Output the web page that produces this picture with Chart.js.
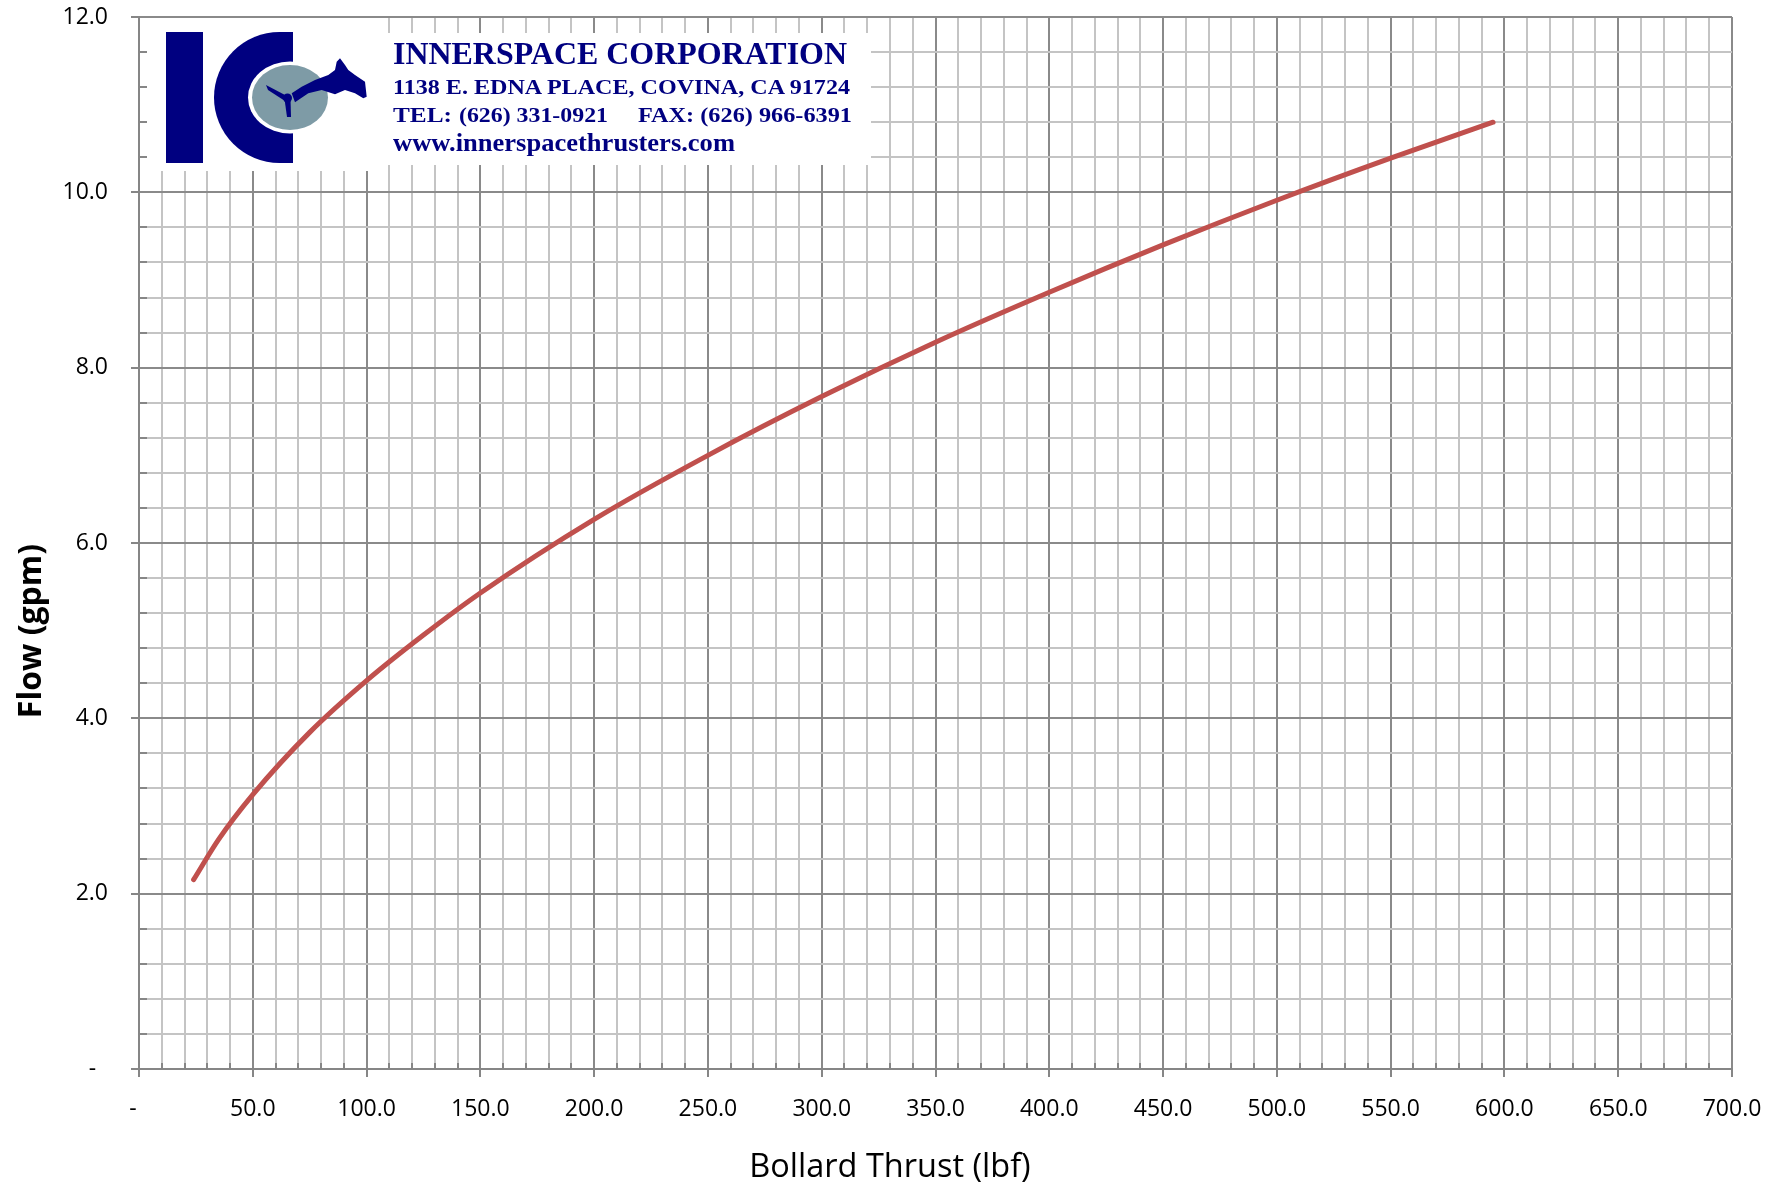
<!DOCTYPE html>
<html>
<head>
<meta charset="utf-8">
<script src="https://cdn.jsdelivr.net/npm/chart.js@4.4.0/dist/chart.umd.min.js"></script>
<style>
  html, body { margin: 0; padding: 0; background: #fff; }
  #wrap { position: relative; width: 1783px; height: 1191px; }
  #chart { display: block; }
  #logo { position: absolute; left: 0; top: 0; pointer-events: none; }
  #logo text { font-family: "Liberation Serif", "Times New Roman", serif; font-weight: bold; fill: #000080; }
</style>
</head>
<body>
<div id="wrap">
  <canvas id="chart" width="1783" height="1191"></canvas>
  <svg id="logo" width="1783" height="1191" xmlns="http://www.w3.org/2000/svg">
    <!-- IC mark -->
    <rect x="166" y="32" width="37" height="131" fill="#000080"/>
    <path d="M293 32 L279.5 32 A65.5 65.5 0 0 0 279.5 163 L293 163 Z" fill="#000080"/>
    <ellipse cx="290" cy="97.5" rx="42" ry="36" fill="#fff"/>
    <ellipse cx="290" cy="97.5" rx="38" ry="32.5" fill="#7e9ba6"/>
    <path d="M291.7 93.3 L301.7 86.7 L315 80 L328.3 75 L335 70 L336.7 61.7 L340 58.3 L345 65 L348.3 70 L355 75 L365 81.7 L366.7 96.7 L363.3 98.3 L355 93.3 L345 90 L335 94.3 L321.7 90 L308.3 93.3 L295 102.3 Z" fill="#000080"/>
    <path d="M285 95 L266 85 L268 90 L285 101 Z" fill="#000080"/>
    <path d="M284.5 99 L287 117 L291 117 L290.5 99 Z" fill="#000080"/>
    <circle cx="287.5" cy="98" r="4.5" fill="#000080"/>
    <!-- company text -->
    <text x="393" y="64" font-size="32" textLength="454" lengthAdjust="spacingAndGlyphs">INNERSPACE CORPORATION</text>
    <text x="393" y="94" font-size="21.5" textLength="457" lengthAdjust="spacingAndGlyphs">1138 E. EDNA PLACE, COVINA, CA 91724</text>
    <text x="393" y="122" font-size="21.5" textLength="59" lengthAdjust="spacingAndGlyphs">TEL:</text>
    <text x="459" y="122" font-size="21.5" textLength="149" lengthAdjust="spacingAndGlyphs">(626) 331-0921</text>
    <text x="638" y="122" font-size="21.5" textLength="214" lengthAdjust="spacingAndGlyphs">FAX: (626) 966-6391</text>
    <text x="393" y="151" font-size="26" textLength="342" lengthAdjust="spacingAndGlyphs">www.innerspacethrusters.com</text>
  </svg>
</div>
<script>
// Bollard thrust (lbf) vs flow (gpm)
const thrust = [24, 35, 50, 75, 100, 125, 150, 200, 250, 300, 350, 400, 450, 500, 550, 595];
const flow   = [2.16, 2.62, 3.13, 3.84, 4.43, 4.95, 5.43, 6.27, 7.00, 7.67, 8.29, 8.86, 9.40, 9.91, 10.39, 10.80];

const xTickLabels = ['-', '50.0', '100.0', '150.0', '200.0', '250.0', '300.0', '350.0',
                     '400.0', '450.0', '500.0', '550.0', '600.0', '650.0', '700.0'];
const yTickLabels = ['-', '2.0', '4.0', '6.0', '8.0', '10.0', '12.0'];

const MINOR = '#c4c4c4';
const MAJOR = '#8a8a8a';
const AXIS = '#868686';
const TICK_FONT = { family: 'Open Sans', size: 23 };

const isMajorX = v => Math.round(v) % 50 === 0;
const isMajorY = v => Math.round(v * 10) % 20 === 0;

// white logo panel over the grid + Excel-style inside minor ticks
const logoPanel = {
  id: 'logoPanel',
  beforeDatasetsDraw(chart) {
    const { ctx, chartArea: a, scales: { x, y } } = chart;
    ctx.save();
    ctx.fillStyle = '#fff';
    ctx.fillRect(141, 18, 237, 153);
    ctx.fillRect(378, 33, 493, 132);
    ctx.strokeStyle = AXIS;
    ctx.lineWidth = 2;
    ctx.beginPath();
    x.ticks.forEach(t => {
      if (isMajorX(t.value)) return;
      const px = Math.round(x.getPixelForValue(t.value));
      ctx.moveTo(px, a.bottom);
      ctx.lineTo(px, a.bottom - 6);
    });
    y.ticks.forEach(t => {
      if (isMajorY(t.value)) return;
      const py = Math.round(y.getPixelForValue(t.value));
      ctx.moveTo(a.left, py);
      ctx.lineTo(a.left + 8, py);
    });
    ctx.stroke();
    ctx.restore();
  }
};

// axis titles sit off-centre in the original, so place them by hand
const axisTitles = {
  id: 'axisTitles',
  afterDraw(chart) {
    const { ctx } = chart;
    ctx.save();
    ctx.fillStyle = '#000';
    ctx.textAlign = 'center';
    ctx.textBaseline = 'middle';
    ctx.font = '32.5px "Open Sans"';
    ctx.fillText('Bollard Thrust (lbf)', 890, 1168);
    ctx.translate(32, 631);
    ctx.rotate(-Math.PI / 2);
    ctx.font = 'bold 32px "Open Sans"';
    ctx.fillText('Flow (gpm)', 0, 0);
    ctx.restore();
  }
};

new Chart(document.getElementById('chart'), {
  type: 'scatter',
  data: {
    datasets: [{
      data: thrust.map((t, i) => ({ x: t, y: flow[i] })),
      showLine: true,
      borderColor: '#c0504d',
      borderWidth: 5,
      borderCapStyle: 'round',
      pointRadius: 0,
      cubicInterpolationMode: 'monotone'
    }]
  },
  options: {
    responsive: false,
    animation: false,
    layout: { padding: { top: 17, right: 51, left: 0, bottom: 0 } },
    plugins: { legend: { display: false }, tooltip: { enabled: false } },
    scales: {
      x: {
        type: 'linear',
        min: 0,
        max: 700,
        afterFit: s => { s.height = 122; },
        border: { color: AXIS, width: 2 },
        grid: {
          color: c => isMajorX(c.tick.value) ? MAJOR : MINOR,
          lineWidth: 2,
          tickLength: 8,
          tickWidth: 2,
          tickColor: c => isMajorX(c.tick.value) ? AXIS : 'rgba(0,0,0,0)'
        },
        ticks: {
          stepSize: 10,
          autoSkip: false,
          maxRotation: 0,
          padding: 19,
          color: '#000',
          font: TICK_FONT,
          callback: v => isMajorX(v) ? (v === 0 ? '-  ' : xTickLabels[Math.round(v / 50)]) : ''
        }
      },
      y: {
        type: 'linear',
        min: 0,
        max: 12,
        afterFit: s => { s.width = 139; s.paddingTop = 0; s.paddingBottom = 0; },
        border: { color: AXIS, width: 2 },
        grid: {
          color: c => isMajorY(c.tick.value) ? MAJOR : MINOR,
          lineWidth: 2,
          tickLength: 8,
          tickWidth: 2,
          tickColor: c => isMajorY(c.tick.value) ? AXIS : 'rgba(0,0,0,0)'
        },
        ticks: {
          stepSize: 0.4,
          autoSkip: false,
          padding: 23,
          color: '#000',
          font: TICK_FONT,
          callback: v => isMajorY(v) ? (v === 0 ? '-  ' : yTickLabels[Math.round(v / 2)]) : ''
        }
      }
    }
  },
  plugins: [logoPanel, axisTitles]
});
</script>
</body>
</html>
